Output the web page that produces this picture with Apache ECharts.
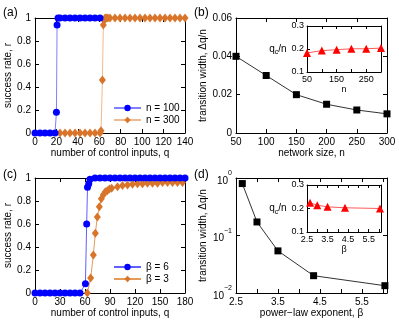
<!DOCTYPE html>
<html><head><meta charset="utf-8">
<script src="https://cdn.jsdelivr.net/npm/echarts@6/dist/echarts.min.js"></script>
<style>html,body{margin:0;padding:0;background:#fff}#c{width:399px;height:323px}</style>
</head><body><div id="c"></div>
<script>
// ---- Panel (a): success rate vs q, n = 100 / n = 300
const qA100 = [0, 4.67, 9.33, 14, 18.67, 20, 20.6, 21.5, 23.33, 28, 32.67, 37.33, 42, 46.67, 51.33, 56, 60.67];
const rA100 = [0, 0, 0, 0, 0, 0.18, 0.94, 1, 1, 1, 1, 1, 1, 1, 1, 1, 1];
const qA300 = [23.33, 28, 32.67, 37.33, 42, 46.67, 51.33, 56, 60.67, 61.6, 62.9, 63.8, 64.6, 65.4, 66.5, 68, 70, 74.67, 79.33, 84, 88.67, 93.33, 98, 102.67, 107.33, 112, 116.67, 121.33, 126, 130.67, 135.33, 140];
const rA300 = [0, 0, 0, 0, 0, 0, 0, 0, 0, 0.02, 0.46, 0.94, 0.98, 1, 1, 1, 1, 1, 1, 1, 1, 1, 1, 1, 1, 1, 1, 1, 1, 1, 1, 1];
// ---- Panel (b): transition width vs n, inset qc/n
const nB = [50, 100, 150, 200, 250, 300];
const widthB = [0.04, 0.03, 0.02, 0.015, 0.012, 0.01];
const qcB = [0.183, 0.193, 0.197, 0.201, 0.201, 0.204];
// ---- Panel (c): success rate vs q, beta = 6 / beta = 3
const qC6 = [0, 6, 12, 18, 24, 30, 36, 42, 48, 54, 60.5, 62, 63, 64.5, 66, 72, 78, 84, 90, 96, 102, 108, 114, 120, 126, 132, 138, 144, 150, 156, 162, 168, 174, 180];
const rC6 = [0, 0, 0, 0, 0, 0, 0, 0, 0, 0, 0.08, 0.6, 0.92, 0.95, 0.99, 1, 1, 1, 1, 1, 1, 1, 1, 1, 1, 1, 1, 1, 1, 1, 1, 1, 1, 1];
const qC3 = [62.8, 66.8, 70, 72.4, 74.8, 77.2, 79.6, 82, 84.4, 86.8, 89.2, 92, 99, 105, 111, 117, 123, 129, 135, 141, 147, 153, 159, 165, 171, 177];
const rC3 = [0, 0.13, 0.33, 0.52, 0.66, 0.75, 0.82, 0.855, 0.88, 0.89, 0.905, 0.91, 0.925, 0.935, 0.94, 0.945, 0.95, 0.95, 0.955, 0.955, 0.955, 0.96, 0.96, 0.96, 0.96, 0.96];
// ---- Panel (d): transition width vs beta (log), inset qc/n
const betaD = [2.65, 3.0, 3.5, 4.35, 6.05];
const widthD = [0.8, 0.172, 0.054, 0.020, 0.0134];
const qcD = [0.224, 0.214, 0.207, 0.203, 0.200];
// tick labels
const ticksA = [0, 20, 40, 60, 80, 100, 120, 140];
const ticksC = [0, 30, 60, 90, 120, 150, 180];
const betaLabels = [2.5, 3.5, 4.5, 5.5];
const nInsetLabels = [50, 150, 250];

const FONT = '"Liberation Sans", Arial, Helvetica, sans-serif';
const pair = (xs, ys) => xs.map((x, i) => [x, ys[i]]);

const grids = [
  {left: 35, top: 18, width: 150, height: 115},
  {left: 236, top: 18, width: 151, height: 115},
  {left: 35, top: 178, width: 150, height: 115},
  {left: 236, top: 178, width: 151, height: 115},
  {left: 307, top: 26, width: 74, height: 46},
  {left: 307, top: 185, width: 74, height: 47}
];

const lineS = {show: true, onZero: false, lineStyle: {color: '#000', width: 1}};
const tickS = (len) => ({show: true, inside: true, length: len, lineStyle: {color: '#000', width: 1}});
const nameStyle = (fs) => ({fontFamily: FONT, fontSize: fs, color: '#000'});

const xAxes = [], yAxes = [];
function addAxes(g, xo, yo, fs, tl) {
  const baseX = Object.assign({gridIndex: g, type: 'value', axisLine: lineS, axisTick: tickS(tl), splitLine: {show: false}}, xo.scale);
  const baseY = Object.assign({gridIndex: g, type: 'value', axisLine: lineS, axisTick: tickS(tl), splitLine: {show: false}}, yo.scale);
  xAxes.push(Object.assign({}, baseX, {position: 'bottom',
    axisLabel: Object.assign({color: '#000', fontFamily: FONT, fontSize: fs, margin: xo.margin, interval: 0}, xo.label || {}),
    name: xo.name, nameLocation: 'middle', nameGap: xo.nameGap, nameTextStyle: Object.assign(nameStyle(fs), xo.nameStyle || {})}));
  xAxes.push(Object.assign({}, baseX, {position: 'top', axisLabel: {show: false}}));
  yAxes.push(Object.assign({}, baseY, {position: 'left',
    axisLabel: Object.assign({color: '#000', fontFamily: FONT, fontSize: fs, margin: yo.margin, interval: 0}, yo.label || {}),
    name: yo.name, nameLocation: 'middle', nameGap: yo.nameGap, nameRotate: yo.nameRotate,
    nameTextStyle: Object.assign(nameStyle(fs), yo.nameStyle || {})}));
  yAxes.push(Object.assign({}, baseY, {position: 'right', axisLabel: {show: false}}));
}

// (a)
addAxes(0,
  {scale: {min: 0, max: 140, interval: 20}, margin: 4, name: 'number of control inputs, q', nameGap: 15},
  {scale: {min: 0, max: 1, interval: 0.2}, margin: 4, name: 'success rate, r', nameGap: 20, nameRotate: 90}, 10, 4);
// (b)
addAxes(1,
  {scale: {min: 50, max: 300, interval: 50}, margin: 4, name: 'network size, n', nameGap: 15},
  {scale: {min: 0, max: 0.06, interval: 0.02}, margin: 4, name: 'transition width, \u0394q/n', nameGap: 28, nameRotate: 90}, 10, 4);
// (c)
addAxes(2,
  {scale: {min: 0, max: 180, interval: 30}, margin: 4, name: 'number of control inputs, q', nameGap: 15},
  {scale: {min: 0, max: 1, interval: 0.2}, margin: 4, name: 'success rate, r', nameGap: 20, nameRotate: 90}, 10, 4);
// (d)
const supRich = {
  b: {fontFamily: FONT, fontSize: 10, color: '#000', lineHeight: 16, verticalAlign: 'bottom'},
  sup: {fontFamily: FONT, fontSize: 7, color: '#000', lineHeight: 16, verticalAlign: 'top'}
};
addAxes(3,
  {scale: {min: 2.5, max: 6.1, interval: 0.5}, margin: 4, name: 'power\u2212law exponent, \u03b2', nameGap: 15,
    label: {formatter: v => betaLabels.some(b => Math.abs(b - v) < 1e-6) ? v.toFixed(1) : ''}},
  {scale: {type: 'log', logBase: 10, min: 0.01, max: 1}, margin: 4, name: 'transition width, \u0394q/n', nameGap: 28, nameRotate: 90,
    label: {formatter: v => { const e = Math.round(Math.log10(v)); return '{b|10}{sup|' + (e < 0 ? '\u2212' + (-e) : e) + '}'; }, rich: supRich}}, 10, 4);
// inset (b)
const subRich = {
  i: {fontFamily: FONT, fontSize: 10, color: '#000', lineHeight: 14, verticalAlign: 'middle'},
  s: {fontFamily: FONT, fontSize: 7, color: '#000', lineHeight: 14, verticalAlign: 'bottom'}
};
addAxes(4,
  {scale: {min: 50, max: 300, interval: 50}, margin: 3, name: 'n', nameGap: 13,
    label: {formatter: v => nInsetLabels.indexOf(v) >= 0 ? String(v) : ''}},
  {scale: {min: 0.1, max: 0.3, interval: 0.1}, margin: 3, name: '{i|q}{s|c}{i|/n}', nameGap: 15, nameRotate: 0,
    nameStyle: {rich: subRich}}, 9, 3);
// inset (d)
addAxes(5,
  {scale: {min: 2.5, max: 6.1, interval: 0.5}, margin: 3, name: '\u03b2', nameGap: 12,
    label: {formatter: v => betaLabels.some(b => Math.abs(b - v) < 1e-6) ? v.toFixed(1) : ''}},
  {scale: {min: 0.1, max: 0.3, interval: 0.1}, margin: 3, name: '{i|q}{s|c}{i|/n}', nameGap: 15, nameRotate: 0,
    nameStyle: {rich: subRich}}, 9, 3);

const BLUE = '#0000ff', ORANGE = '#d8752a';
const series = [
  {name: 'n = 300', type: 'line', xAxisIndex: 0, yAxisIndex: 0, data: pair(qA300, rA300), z: 2,
    symbol: 'diamond', symbolSize: [7, 9], itemStyle: {color: ORANGE}, lineStyle: {color: '#efba8f', width: 1}},
  {name: 'n = 100', type: 'line', xAxisIndex: 0, yAxisIndex: 0, data: pair(qA100, rA100), z: 3,
    symbol: 'circle', symbolSize: 7, itemStyle: {color: BLUE}, lineStyle: {color: '#8080ff', width: 1}},
  {name: 'widthB', type: 'line', xAxisIndex: 2, yAxisIndex: 2, data: pair(nB, widthB),
    symbol: 'rect', symbolSize: 7, itemStyle: {color: '#000'}, lineStyle: {color: '#333', width: 1}},
  {name: '\u03b2 = 3', type: 'line', xAxisIndex: 4, yAxisIndex: 4, data: pair(qC3, rC3), z: 2,
    symbol: 'diamond', symbolSize: [7, 9], itemStyle: {color: ORANGE}, lineStyle: {color: '#e59a5a', width: 1}},
  {name: '\u03b2 = 6', type: 'line', xAxisIndex: 4, yAxisIndex: 4, data: pair(qC6, rC6), z: 3,
    symbol: 'circle', symbolSize: 7, itemStyle: {color: BLUE}, lineStyle: {color: '#6060ff', width: 1}},
  {name: 'widthD', type: 'line', xAxisIndex: 6, yAxisIndex: 6, data: pair(betaD, widthD),
    symbol: 'rect', symbolSize: 7, itemStyle: {color: '#000'}, lineStyle: {color: '#333', width: 1}},
  {name: 'qcB', type: 'line', xAxisIndex: 8, yAxisIndex: 8, data: pair(nB, qcB),
    symbol: 'triangle', symbolSize: 8, itemStyle: {color: '#ff0000'}, lineStyle: {color: '#ff5a5a', width: 1}},
  {name: 'qcD', type: 'line', xAxisIndex: 10, yAxisIndex: 10, data: pair(betaD, qcD),
    symbol: 'triangle', symbolSize: 8, itemStyle: {color: '#ff0000'}, lineStyle: {color: '#ff5a5a', width: 1}}
];

const legendBase = {orient: 'vertical', itemWidth: 27, itemHeight: 8, itemGap: 2, padding: 0,
  textStyle: {fontFamily: FONT, fontSize: 10, color: '#000'}, selectedMode: false};

const panelLabel = (t, x, y) => ({type: 'text', left: x, top: y, style: {text: t, font: '12px ' + FONT, fill: '#000'}});

const chart = echarts.init(document.getElementById('c'));
chart.setOption({
  animation: false,
  backgroundColor: '#fff',
  grid: grids,
  xAxis: xAxes,
  yAxis: yAxes,
  legend: [
    Object.assign({data: ['n = 100', 'n = 300'], left: 113, top: 103}, legendBase),
    Object.assign({data: ['\u03b2 = 6', '\u03b2 = 3'], left: 113, top: 262}, legendBase)
  ],
  series: series,
  graphic: [panelLabel('(a)', 3, 7), panelLabel('(b)', 194, 7), panelLabel('(c)', 3, 169), panelLabel('(d)', 194, 169)]
});
</script>
</body></html>
